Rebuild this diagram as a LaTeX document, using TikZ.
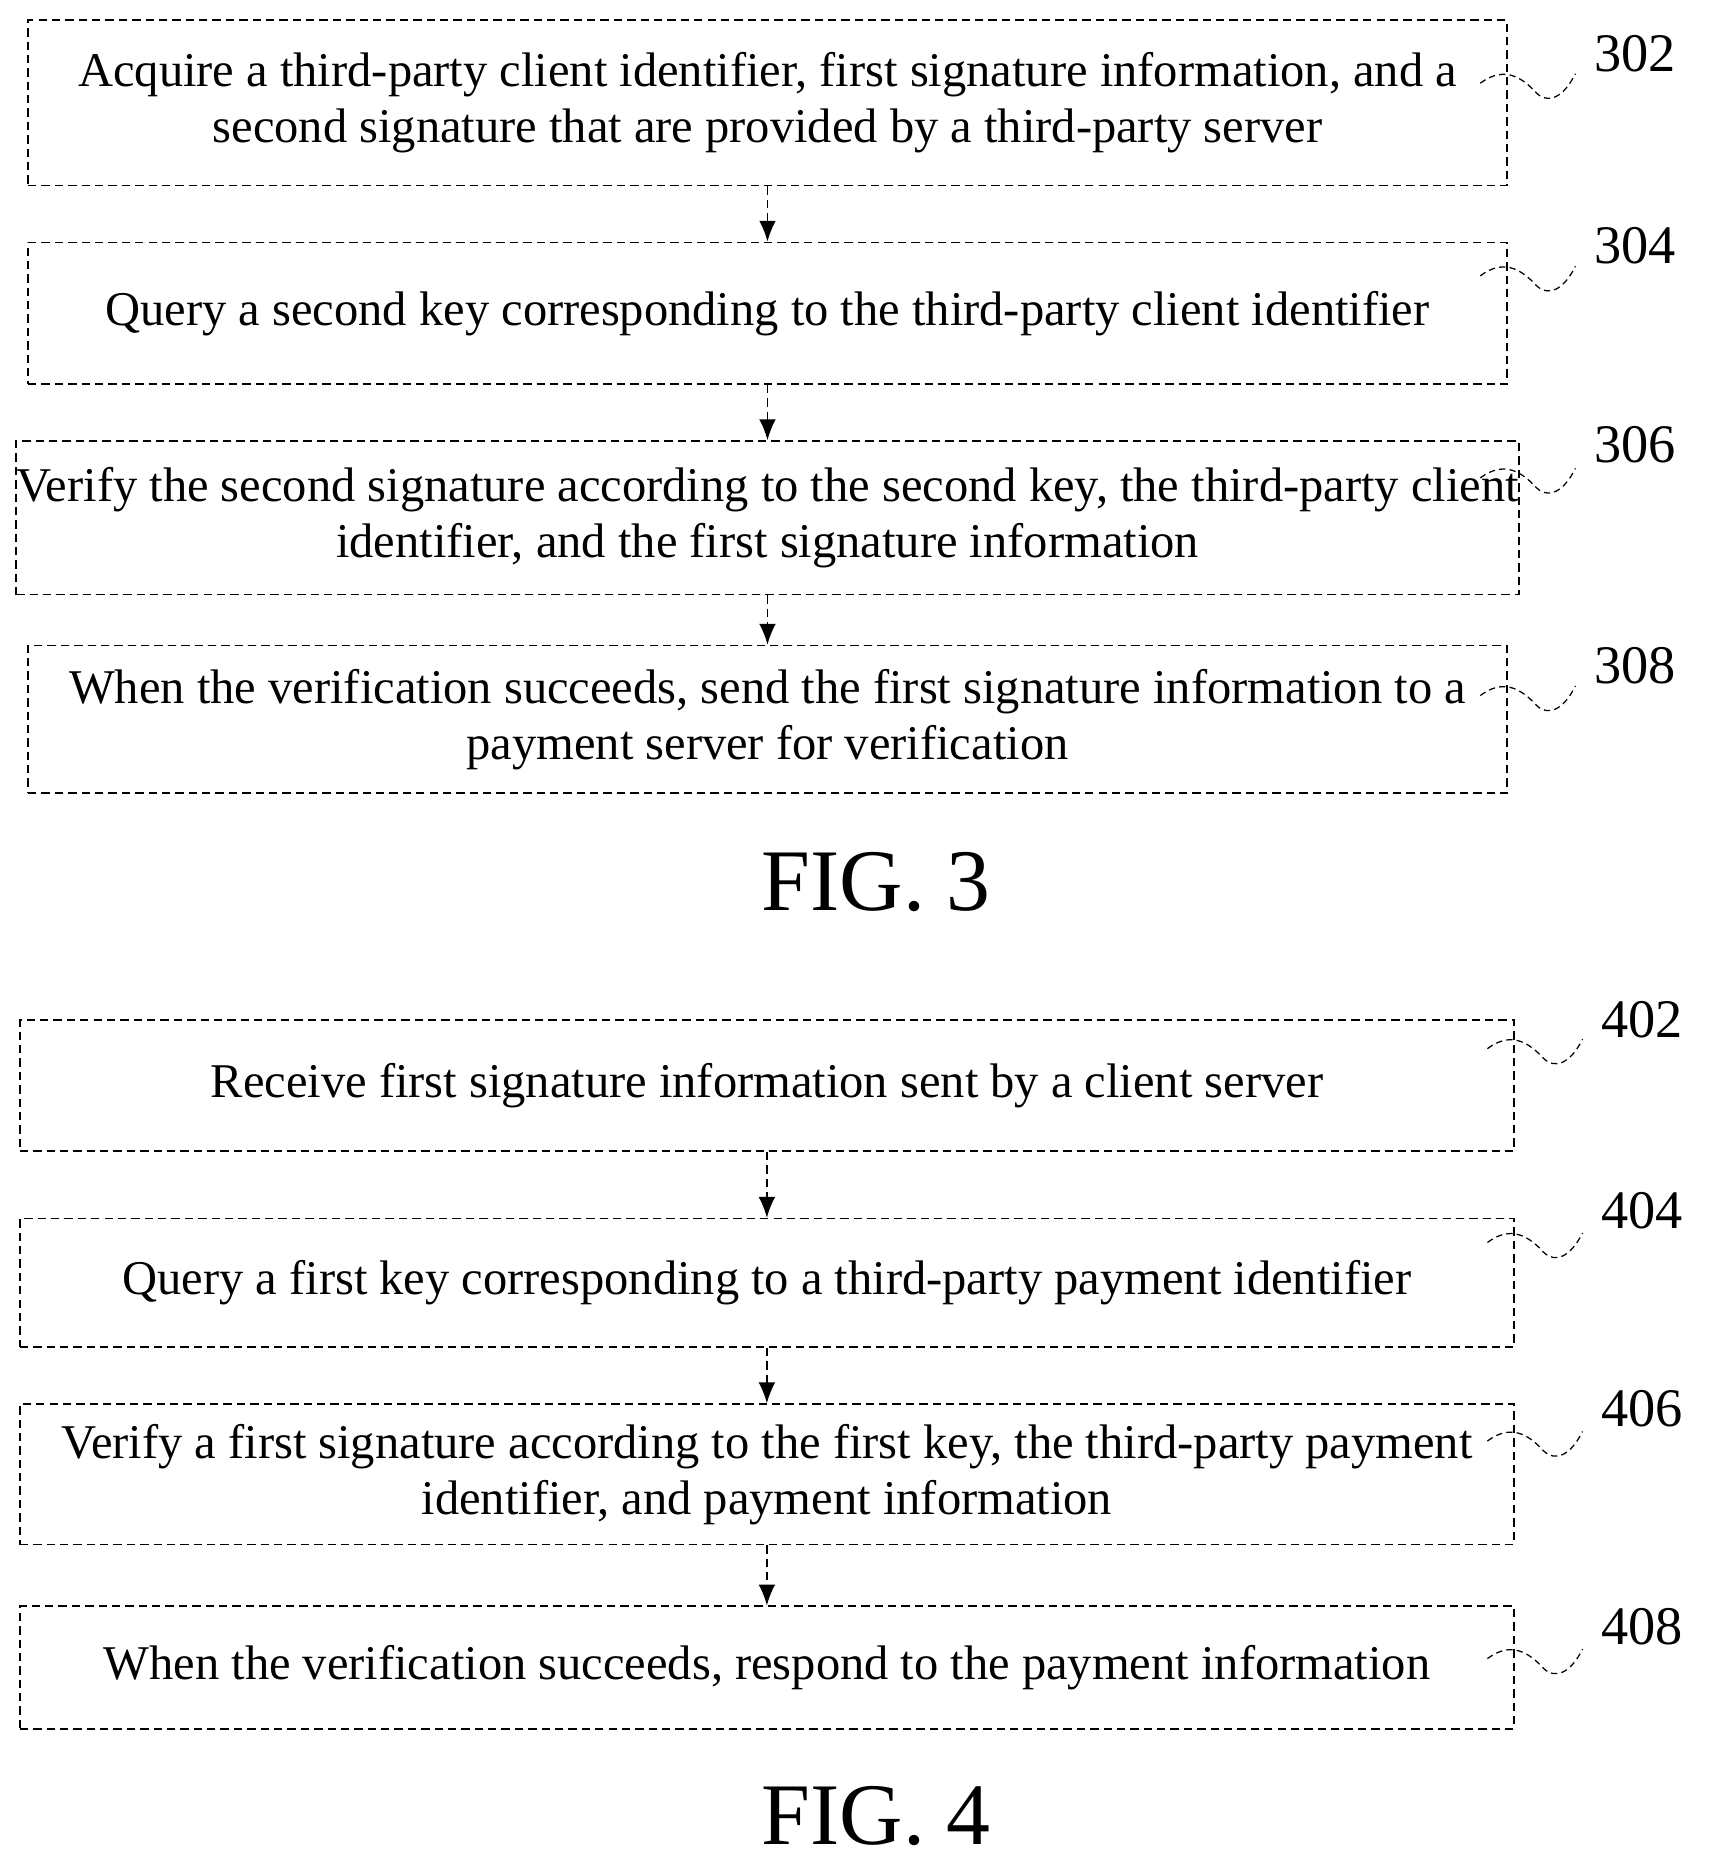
\documentclass[tikz,border=0pt]{standalone}
\usepackage{fontspec}
\setmainfont{Liberation Serif}
\usetikzlibrary{arrows.meta}
\begin{document}
\begin{tikzpicture}[x=0.01cm,y=-0.01cm,
  box/.style={draw,dashed,dash pattern=on 2pt off 1.2pt,line width=0.4pt,align=center,
    font=\fontsize{11.6}{13.4}\selectfont,inner sep=0pt},
  flow/.style={draw,dashed,dash pattern=on 2pt off 1.2pt,line width=0.4pt,-{Latex[length=5pt,width=4pt]}},
  lbl/.style={font=\fontsize{13}{15}\selectfont},
  fig/.style={font=\fontsize{21}{24}\selectfont},
  wave/.style={dash pattern=on 1.5pt off 1pt,line width=0.3pt}]
  \useasboundingbox (0,0) rectangle (1440,1577);
  % FIG. 3
  \node[box,minimum width=12.43cm,minimum height=1.39cm] (s302) at (645.5,86.5)
    {Acquire a third-party client identifier, first signature information, and a\\second signature that are provided by a third-party server};
  \node[box,minimum width=12.43cm,minimum height=1.19cm] (s304) at (645.5,263.5)
    {Query a second key corresponding to the third-party client identifier};
  \node[box,minimum width=12.43cm,minimum height=1.29cm] (s306) at (645.5,435.5)
    {Verify the second signature according to the second key, the third-party client\\identifier, and the first signature information};
  \node[box,minimum width=12.43cm,minimum height=1.24cm] (s308) at (645.5,605)
    {When the verification succeeds, send the first signature information to a\\payment server for verification};
  \draw[flow] (s302) -- (s304);
  \draw[flow] (s304) -- (s306);
  \draw[flow] (s306) -- (s308);
  \node[lbl] (n302) at (1375,45) {302};
  \node[lbl] (n304) at (1375,207) {304};
  \node[lbl] (n306) at (1375,374) {306};
  \node[lbl] (n308) at (1375,560) {308};
  \foreach \y in {70,232,402,585}
    \draw[wave] (1245,\y) .. controls (1265,\y-15) and (1280,\y-5) .. (1292,\y+8)
      .. controls (1302,\y+18) and (1315,\y+12) .. (1325,\y-8);
  \node[fig] (fig3) at (737,742) {FIG. 3};
  % FIG. 4
  \node[box,minimum width=12.56cm,minimum height=1.10cm] (s402) at (645,913)
    {Receive first signature information sent by a client server};
  \node[box,minimum width=12.56cm,minimum height=1.08cm] (s404) at (645,1079)
    {Query a first key corresponding to a third-party payment identifier};
  \node[box,minimum width=12.56cm,minimum height=1.18cm] (s406) at (645,1240)
    {Verify a first signature according to the first key, the third-party payment\\identifier, and payment information};
  \node[box,minimum width=12.56cm,minimum height=1.03cm] (s408) at (645,1402.5)
    {When the verification succeeds, respond to the payment information};
  \draw[flow] (s402) -- (s404);
  \draw[flow] (s404) -- (s406);
  \draw[flow] (s406) -- (s408);
  \node[lbl] (n402) at (1381,858) {402};
  \node[lbl] (n404) at (1381,1018) {404};
  \node[lbl] (n406) at (1381,1185) {406};
  \node[lbl] (n408) at (1381,1368) {408};
  \foreach \y in {882,1045,1212,1395}
    \draw[wave] (1251,\y) .. controls (1271,\y-15) and (1286,\y-5) .. (1298,\y+8)
      .. controls (1308,\y+18) and (1321,\y+12) .. (1331,\y-8);
  \node[fig] (fig4) at (737,1527) {FIG. 4};
\end{tikzpicture}
\end{document}
